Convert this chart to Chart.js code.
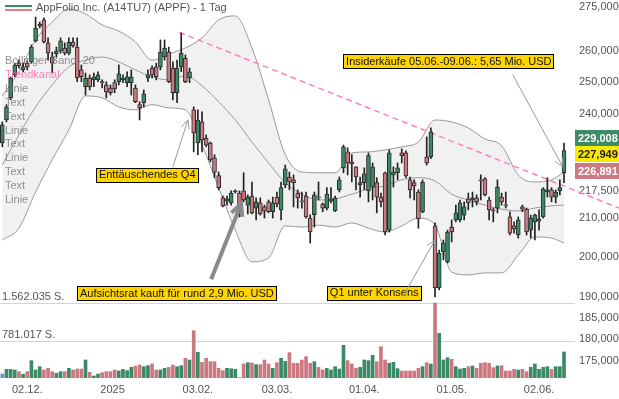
<!DOCTYPE html>
<html>
<head>
<meta charset="utf-8">
<script src="https://cdn.jsdelivr.net/npm/chart.js@4.4.1/dist/chart.umd.min.js"></script>
<style>
  html, body { margin: 0; padding: 0; background: #fff; }
  #wrap { width: 619px; height: 399px; }
</style>
</head>
<body>
<div id="wrap"><canvas id="chart" width="619" height="399"></canvas></div>
<script>
/* AppFolio daily candles, 21.11.2024 - 10.06.2025 */
var FONT = '"Liberation Sans", Arial, sans-serif';
var GREEN = '#3b8a66';
var RED = '#cc7880';

var opens = [
    231.2, 238.1, 244.9, 252.2, 256.0, 253.8, 256.0, 256.4, 263.4, 268.4,
    270.5, 262.7, 258.0, 259.0, 260.0, 261.0, 259.3, 263.0, 261.3, 253.8,
    248.4, 251.2, 250.6, 250.6, 250.0, 249.0, 248.0, 249.7, 250.0, 250.6,
    249.7, 249.7, 248.0, 242.8, 243.4, 251.2, 254.4, 254.8, 254.8, 258.0,
    259.6, 254.4, 246.5, 254.8, 257.6, 251.2, 241.2, 231.2, 237.5, 232.7,
    231.2, 226.9, 221.8, 215.6, 214.7, 214.2, 217.2, 216.9, 217.5, 213.6,
    216.1, 212.8, 214.2, 213.1, 214.5, 211.8, 215.8, 212.3, 219.2, 221.4,
    220.6, 216.9, 214.7, 216.1, 210.1, 211.0, 215.8, 213.9, 212.8, 214.7,
    212.0, 217.8, 224.0, 228.6, 225.7, 224.3, 219.2, 219.8, 217.5, 218.6,
    219.8, 215.8, 222.6, 206.9, 222.0, 222.6, 228.3, 228.3, 220.6, 219.8,
    217.2, 211.8, 227.2, 227.2, 208.0, 192.2, 201.2, 198.7, 207.7, 209.6,
    209.6, 210.9, 215.3, 215.0, 215.6, 220.6, 220.9, 215.0, 212.3, 212.8,
    215.8, 213.6, 210.4, 208.0, 205.6, 213.1, 212.5, 206.9, 209.1, 209.3,
    210.4, 217.2, 217.8, 215.8, 217.5, 222.6
];
var highs = [
    237.5, 242.8, 251.5, 256.0, 257.0, 256.0, 256.7, 262.0, 271.5, 269.8,
    271.2, 264.4, 259.6, 261.3, 264.4, 262.7, 264.4, 264.4, 264.4, 255.4,
    252.8, 252.2, 252.8, 253.2, 250.6, 250.0, 249.0, 250.6, 255.4, 252.2,
    253.2, 253.8, 249.0, 243.7, 247.4, 253.8, 255.1, 256.0, 263.7, 263.7,
    261.3, 256.4, 257.0, 266.0, 258.7, 254.4, 242.1, 241.2, 240.6, 233.6,
    231.5, 227.8, 222.8, 216.1, 216.1, 217.5, 217.8, 217.5, 222.6, 216.4,
    220.0, 215.6, 215.6, 213.6, 215.0, 215.8, 217.2, 220.0, 224.8, 222.8,
    222.0, 217.8, 217.2, 217.2, 211.0, 217.2, 220.0, 214.2, 218.4, 218.4,
    216.1, 221.4, 230.6, 229.8, 227.8, 224.3, 221.4, 224.0, 228.3, 225.4,
    221.2, 216.9, 222.8, 229.2, 224.3, 225.4, 229.5, 228.9, 221.4, 220.6,
    217.8, 220.6, 233.0, 235.7, 208.8, 201.7, 204.3, 206.9, 209.6, 213.6,
    215.0, 214.5, 216.9, 217.2, 216.4, 222.0, 221.2, 215.8, 212.8, 220.6,
    216.9, 217.2, 211.8, 209.1, 210.4, 213.6, 212.8, 210.9, 211.2, 212.3,
    218.4, 221.2, 218.4, 217.8, 220.6, 231.2
];
var lows = [
    230.1, 237.5, 244.3, 251.6, 254.4, 253.2, 253.8, 256.0, 263.0, 267.7,
    262.7, 257.0, 252.8, 258.0, 259.3, 258.7, 258.7, 261.3, 250.0, 250.0,
    245.8, 247.4, 248.4, 250.0, 248.0, 244.9, 245.8, 246.5, 249.0, 249.7,
    248.4, 245.8, 243.4, 238.1, 242.1, 250.0, 251.2, 250.6, 253.8, 257.0,
    249.7, 244.3, 243.4, 253.2, 249.7, 249.7, 228.6, 227.8, 228.6, 230.1,
    225.7, 221.2, 217.8, 213.1, 213.6, 213.6, 216.9, 210.4, 214.5, 211.2,
    211.2, 209.6, 210.9, 210.1, 211.5, 210.1, 213.1, 209.6, 218.4, 217.8,
    213.1, 212.8, 212.8, 210.1, 203.5, 207.7, 215.0, 211.8, 212.3, 214.2,
    211.8, 217.2, 222.6, 222.0, 220.0, 217.8, 215.8, 217.8, 214.5, 215.0,
    211.5, 213.1, 205.6, 206.4, 218.6, 220.6, 225.4, 221.2, 215.6, 215.0,
    207.4, 211.5, 224.8, 226.6, 190.0, 191.7, 199.2, 198.4, 203.8, 209.1,
    209.1, 209.6, 212.3, 213.1, 213.6, 215.0, 216.1, 209.6, 209.1, 211.5,
    213.6, 212.8, 205.6, 206.1, 204.8, 211.8, 205.6, 204.8, 204.3, 206.9,
    210.1, 215.8, 214.5, 214.2, 216.4, 219.8
];
var closes = [
    236.6, 242.1, 251.2, 255.4, 255.1, 254.8, 254.8, 261.3, 267.7, 269.1,
    263.0, 259.3, 256.0, 260.0, 263.4, 259.3, 263.0, 261.7, 251.2, 251.6,
    251.2, 248.4, 251.6, 252.2, 249.7, 246.8, 246.5, 247.7, 252.5, 251.2,
    251.6, 251.6, 243.7, 241.8, 246.2, 252.2, 252.2, 251.6, 259.6, 261.0,
    250.0, 246.5, 254.4, 259.3, 250.0, 253.2, 234.2, 238.1, 232.1, 230.6,
    226.3, 222.8, 218.4, 213.4, 215.3, 216.9, 217.5, 212.3, 215.0, 215.8,
    211.5, 214.5, 211.2, 212.0, 211.8, 214.2, 213.9, 218.4, 223.7, 220.0,
    219.8, 215.6, 214.5, 210.4, 206.4, 216.4, 215.6, 212.8, 216.6, 215.3,
    215.6, 220.6, 230.1, 225.4, 225.1, 221.4, 219.8, 222.3, 227.5, 224.3,
    215.8, 214.5, 206.4, 228.3, 222.8, 224.0, 227.5, 221.7, 217.8, 218.9,
    209.9, 220.0, 225.4, 234.5, 192.2, 200.9, 203.5, 206.4, 206.4, 211.5,
    214.2, 213.1, 214.2, 215.6, 214.5, 220.3, 216.4, 212.3, 212.0, 218.6,
    214.5, 213.4, 206.1, 207.2, 209.6, 212.5, 206.4, 210.1, 210.9, 209.9,
    218.1, 217.8, 215.8, 217.2, 218.4, 229.0
];
var volumes = [
    85000, 181000, 181000, 167000, 132000, 77000, 132000, 361000, 167000, 236000,
    167000, 201000, 132000, 97000, 132000, 132000, 201000, 167000, 187000, 187000,
    375000, 118000, 42000, 83000, 111000, 132000, 132000, 167000, 146000, 181000,
    153000, 222000, 250000, 271000, 236000, 257000, 292000, 167000, 167000, 201000,
    222000, 271000, 236000, 257000, 410000, 375000, 985000, 535000, 327000, 410000,
    340000, 340000, 201000, 153000, 201000, 194000, 181000, 10000, 292000, 319000,
    312000, 278000, 278000, 375000, 292000, 201000, 319000, 410000, 347000, 528000,
    306000, 306000, 375000, 444000, 306000, 340000, 222000, 167000, 201000, 167000,
    236000, 187000, 680000, 361000, 292000, 201000, 222000, 375000, 361000, 472000,
    340000, 652000, 375000, 306000, 327000, 194000, 146000, 146000, 146000, 146000,
    201000, 236000, 319000, 292000, 1562035, 931000, 375000, 423000, 389000, 236000,
    187000, 201000, 236000, 250000, 201000, 306000, 319000, 306000, 215000, 250000,
    257000, 146000, 146000, 181000, 167000, 181000, 132000, 222000, 292000, 181000,
    222000, 236000, 181000, 236000, 236000, 542000
];

// Bollinger band (20), every 4th day
var bandIdx = [0, 4, 8, 12, 16, 20, 24, 28, 32, 36, 40, 44, 48, 52, 56, 60, 64, 68,
    72, 76, 80, 84, 88, 92, 96, 100, 104, 108, 112, 116, 120, 124, 128, 132, 135];
var bandUpper = [245.5, 253.2, 263.7, 269.8, 274.3, 272.6, 268.8, 266.7, 263.0, 257.0,
    259.0, 261.0, 264.4, 270.5, 271.9, 261.0, 244.3, 227.8, 222.8, 222.6,
    222.6, 228.3, 228.6, 229.2, 230.1, 231.5, 238.1, 237.5, 235.7, 232.4,
    230.4, 222.0, 220.0, 220.6, 222.8];
var bandMiddle = [224.8, 233.6, 242.1, 249.0, 254.8, 257.0, 258.0, 256.4, 253.8, 251.6,
    250.6, 251.9, 248.7, 243.7, 238.1, 231.5, 225.4, 219.8, 216.6, 215.0,
    215.3, 216.6, 218.1, 218.9, 220.6, 221.2, 220.3, 216.6, 215.0, 213.6,
    212.5, 212.0, 212.8, 213.4, 213.6];
var bandLower = [204.3, 207.4, 217.2, 226.3, 235.1, 245.5, 244.9, 242.1, 241.2, 242.8,
    241.8, 241.2, 230.6, 218.4, 206.9, 198.7, 199.7, 208.0, 207.7, 208.2,
    207.7, 208.8, 207.4, 206.4, 208.0, 210.1, 208.2, 196.1, 195.4, 195.9,
    195.9, 200.4, 205.1, 204.8, 203.5];

var xTickPos = [6, 26.5, 47, 66, 87, 108, 129];
var xTickLabels = ['02.12.', '2025', '03.02.', '03.03.', '01.04.', '01.05.', '02.06.'];
var yTickVals = [275, 260, 250, 240, 217.5, 210, 200, 190, 185, 180, 175];

var trendX = [42.5, 148.2];
var trendY = [266.3, 212.8];

var quoteVals = [229.008, 227.949, 226.891];
var quoteColors = ['#3d8a67', '#f7ea00', '#cc7a81'];
var quoteText = ['#fff', '#222', '#fff'];

var sideLabels = ['Bollinger Band: 20', 'Trendkanal', 'Linie', 'Text', 'Text', 'Linie',
    'Text', 'Linie', 'Text', 'Text', 'Linie'];

var notes = [
    { text: 'Enttäuschendes Q4', x: 22.5, y: 222.0, from: [41.0, 224.3], to: [44.6, 238.1], thick: false },
    { text: 'Aufsichtsrat kauft für rund 2,9 Mio. USD', x: 17.95, y: 190.9, from: [50.2, 194.3], to: [57.4, 213.9], thick: true },
    { text: 'Q1 unter Konsens', x: 78.0, y: 191.0, from: [96.3, 190.1], to: [104.0, 204.3], thick: false },
    { text: 'Insiderkäufe 05.06.-09.06.: 5,65 Mio. USD', x: 81.9, y: 256.7, from: [122.7, 252.2], to: [134.7, 224.3], thick: false }
];

function fmt3(v) {
    return v.toFixed(3).replace('.', ',');
}
function fmtDe(n) {
    return String(n).replace(/\B(?=(\d{3})+(?!\d))/g, '.');
}
function band(vals) {
    return vals.map(function (v, i) { return { x: bandIdx[i], y: v }; });
}

var up = closes.map(function (c, i) { return c >= opens[i]; });
var bodyData = opens.map(function (o, i) { return { x: i, y: [o, closes[i]] }; });
var wickData = lows.map(function (l, i) { return { x: i, y: [l, highs[i]] }; });
var volData = volumes.map(function (v, i) { return { x: i, y: v }; });
var maxVol = Math.max.apply(null, volumes);
// volume panel takes the lower ~20% of the plot
var volMax = maxVol / 0.1984;

function arrow(ctx, x1, y1, x2, y2, head) {
    ctx.beginPath();
    ctx.moveTo(x1, y1);
    ctx.lineTo(x2, y2);
    ctx.stroke();
    var a = Math.atan2(y2 - y1, x2 - x1);
    ctx.beginPath();
    ctx.moveTo(x2 - head * Math.cos(a - 0.45), y2 - head * Math.sin(a - 0.45));
    ctx.lineTo(x2, y2);
    ctx.lineTo(x2 - head * Math.cos(a + 0.45), y2 - head * Math.sin(a + 0.45));
    ctx.stroke();
}

var overlay = {
    id: 'overlay',
    beforeDatasetsDraw: function (chart) {
        var ctx = chart.ctx, area = chart.chartArea, yv = chart.scales.yv;
        ctx.save();
        ctx.strokeStyle = '#d4d4d4';
        ctx.lineWidth = 1;
        ctx.fillStyle = '#555';
        ctx.font = '11px ' + FONT;
        ctx.textBaseline = 'middle';
        [maxVol, Math.floor(maxVol / 2)].forEach(function (v) {
            var py = Math.round(yv.getPixelForValue(v)) + 0.5;
            ctx.beginPath();
            ctx.moveTo(area.left, py);
            ctx.lineTo(area.right, py);
            ctx.stroke();
            ctx.fillText(fmtDe(v) + ' S.', 2, py - 6.5);
        });
        ctx.restore();
    },
    afterDatasetsDraw: function (chart) {
        var ctx = chart.ctx, xs = chart.scales.x, ys = chart.scales.y;
        ctx.save();
        // title + legend icon
        ctx.fillStyle = GREEN;
        ctx.fillRect(5, 5, 27, 2);
        ctx.fillStyle = '#e07f8a';
        ctx.fillRect(5, 9, 27, 2);
        ctx.fillStyle = '#555';
        ctx.font = '11px ' + FONT;
        ctx.textBaseline = 'middle';
        ctx.fillText('AppFolio Inc. (A14TU7) (APPF) - 1 Tag', 36, 8);
        // indicator list on the left
        sideLabels.forEach(function (t, k) {
            ctx.fillStyle = k === 1 ? 'rgba(255,110,180,0.85)' : 'rgba(110,110,110,0.75)';
            ctx.fillText(t, 5, 61 + k * 13.9);
        });
        // notes
        notes.forEach(function (n) {
            var bx = xs.getPixelForValue(n.x), by = ys.getPixelForValue(n.y);
            var w = ctx.measureText(n.text).width + 5;
            ctx.fillStyle = '#ffd500';
            ctx.fillRect(Math.round(bx) + 0.5, Math.round(by - 7) + 0.5, Math.round(w), 14);
            ctx.strokeStyle = '#000';
            ctx.lineWidth = 1;
            ctx.strokeRect(Math.round(bx) + 0.5, Math.round(by - 7) + 0.5, Math.round(w), 14);
            ctx.fillStyle = '#111';
            ctx.fillText(n.text, bx + 3, by + 0.5);
        });
        notes.forEach(function (n) {
            ctx.strokeStyle = n.thick ? '#8a8a8a' : '#9a9a9a';
            ctx.lineWidth = n.thick ? 4 : 1;
            ctx.lineCap = n.thick ? 'butt' : 'round';
            arrow(ctx,
                xs.getPixelForValue(n.from[0]), ys.getPixelForValue(n.from[1]),
                xs.getPixelForValue(n.to[0]), ys.getPixelForValue(n.to[1]),
                n.thick ? 13 : 9);
        });
        ctx.restore();
    },
    afterDraw: function (chart) {
        var ctx = chart.ctx, ys = chart.scales.y, area = chart.chartArea;
        var mid = ys.getPixelForValue(quoteVals[1]);
        ctx.save();
        ctx.font = 'bold 11px ' + FONT;
        ctx.textBaseline = 'middle';
        quoteVals.forEach(function (v, k) {
            var top = Math.round(mid - 8 + (k - 1) * 16.5);
            ctx.fillStyle = quoteColors[k];
            ctx.fillRect(area.right, top, chart.width - area.right, 16);
            ctx.fillStyle = quoteText[k];
            ctx.fillText(fmt3(v), area.right + 3, top + 8.5);
        });
        ctx.restore();
    }
};

new Chart(document.getElementById('chart'), {
    type: 'bar',
    data: {
        datasets: [
            {
                type: 'bar',
                data: bodyData,
                yAxisID: 'y',
                backgroundColor: up.map(function (u) { return u ? GREEN : RED; }),
                borderColor: '#2a2a2a',
                borderWidth: 1,
                borderSkipped: false,
                barThickness: 4,
                minBarLength: 1,
                grouped: false,
                order: 1
            },
            {
                type: 'bar',
                data: wickData,
                yAxisID: 'y',
                backgroundColor: '#222',
                barThickness: 1,
                grouped: false,
                order: 2
            },
            {
                type: 'bar',
                data: volData,
                yAxisID: 'yv',
                backgroundColor: up.map(function (u, i) { return i === 0 ? '#6e90d2' : (u ? GREEN : RED); }),
                barThickness: 3,
                grouped: false,
                order: 3
            },
            {
                type: 'line',
                data: band(bandUpper),
                yAxisID: 'y',
                borderColor: '#999',
                borderWidth: 1,
                pointRadius: 0,
                cubicInterpolationMode: 'monotone',
                fill: '+2',
                backgroundColor: '#f1f1f1',
                order: 7
            },
            {
                type: 'line',
                data: band(bandMiddle),
                yAxisID: 'y',
                borderColor: '#999',
                borderWidth: 1,
                pointRadius: 0,
                cubicInterpolationMode: 'monotone',
                fill: false,
                order: 6
            },
            {
                type: 'line',
                data: band(bandLower),
                yAxisID: 'y',
                borderColor: '#999',
                borderWidth: 1,
                pointRadius: 0,
                cubicInterpolationMode: 'monotone',
                fill: false,
                order: 6
            },
            {
                type: 'line',
                data: trendX.map(function (x, i) { return { x: x, y: trendY[i] }; }),
                yAxisID: 'y',
                borderColor: '#ff80bf',
                borderWidth: 1.5,
                borderDash: [6, 4],
                pointRadius: 0,
                fill: false,
                clip: false,
                order: 4
            }
        ]
    },
    options: {
        responsive: false,
        animation: false,
        devicePixelRatio: 1,
        layout: { padding: 0 },
        plugins: {
            legend: { display: false },
            tooltip: { enabled: false }
        },
        scales: {
            x: {
                type: 'linear',
                min: -0.553,
                max: 137.64,
                bounds: 'data',
                offset: false,
                grid: { display: false, drawTicks: false },
                border: { display: false },
                ticks: {
                    autoSkip: false,
                    maxRotation: 0,
                    padding: 5,
                    color: '#555',
                    font: { family: FONT, size: 11 },
                    callback: function (v, i) { return xTickLabels[i]; }
                },
                afterBuildTicks: function (s) {
                    s.ticks = xTickPos.map(function (v) { return { value: v }; });
                },
                afterFit: function (s) {
                    s.height = 21;
                    s.paddingLeft = 0;
                    s.paddingRight = 0;
                }
            },
            y: {
                type: 'logarithmic',
                position: 'right',
                min: 171.33,
                max: 277.47,
                bounds: 'data',
                grid: { display: false, drawTicks: false },
                border: { display: false },
                ticks: {
                    autoSkip: false,
                    padding: 4,
                    color: '#555',
                    font: { family: FONT, size: 11 },
                    callback: function (v) { return fmt3(v); }
                },
                afterBuildTicks: function (s) {
                    s.ticks = yTickVals.map(function (v) { return { value: v }; });
                },
                afterFit: function (s) {
                    s.width = 44;
                    s.paddingTop = 0;
                    s.paddingBottom = 0;
                }
            },
            yv: {
                type: 'linear',
                display: false,
                min: 0,
                max: volMax
            }
        }
    },
    plugins: [overlay]
});
</script>
</body>
</html>
